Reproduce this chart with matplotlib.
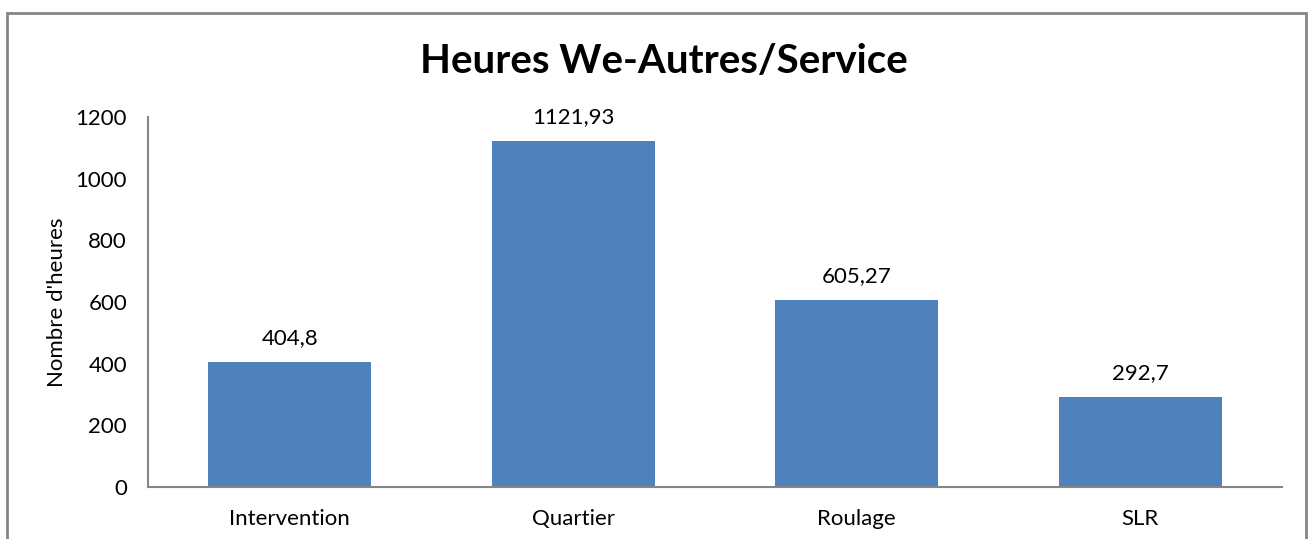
import matplotlib.pyplot as plt
from matplotlib.patches import Rectangle

services = ['Intervention', 'Quartier', 'Roulage', 'SLR']
heures = [404.8, 1121.93, 605.27, 292.7]
etiquettes = ['404,8', '1121,93', '605,27', '292,7']

plt.rcParams['font.family'] = ['Lato', 'DejaVu Sans']

fig = plt.figure(figsize=(13.14, 5.39), dpi=100)
ax = fig.add_axes([0.1126, 0.0965, 0.863, 0.6865])

x = range(len(services))
ax.bar(x, heures, width=0.575, color='#4F81BD')
for i, (h, lab) in enumerate(zip(heures, etiquettes)):
    ax.annotate(lab, (i, h), xytext=(0, 10), textcoords='offset points',
                ha='center', va='bottom', fontsize=16)

ax.set_xlim(-0.5, len(services) - 0.5)
ax.set_ylim(0, 1200)
ax.set_yticks(range(0, 1201, 200))
ax.set_xticks(list(x))
ax.set_xticklabels(services)
ax.tick_params(axis='y', length=0, labelsize=16, pad=15)
ax.tick_params(axis='x', length=0, labelsize=16, pad=16)
ax.set_ylabel("Nombre d'heures", fontsize=16, labelpad=6)

for s in ['top', 'right']:
    ax.spines[s].set_visible(False)
for s in ['left', 'bottom']:
    ax.spines[s].set_color('#868686')
    ax.spines[s].set_linewidth(1.5)

fig.text(0.505, 0.885, 'Heures We-Autres/Service', ha='center', va='center',
         fontsize=29, fontweight='bold')

# cadre du graphique
fig.patches.append(Rectangle((7 / 1314, -0.05), 1299 / 1314, 1.05 - 13 / 539,
                             transform=fig.transFigure, fill=False,
                             edgecolor='#868686', linewidth=2))

fig.savefig('out.png', dpi=100)
